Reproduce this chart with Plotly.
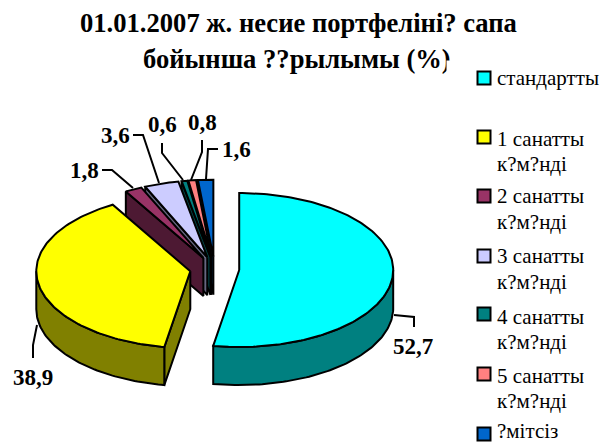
import math
import plotly.graph_objects as go

categories = ["стандартты", "1 санатты<br>к?м?нді", "2 санатты<br>к?м?нді", "3 санатты<br>к?м?нді",
              "4 санатты<br>к?м?нді", "5 санатты<br>к?м?нді", "?мітсіз"]
values = [52.7, 38.9, 1.8, 3.6, 0.6, 0.8, 1.6]
value_labels = ["52,7", "38,9", "1,8", "3,6", "0,6", "0,8", "1,6"]
top_colors = ["#00FFFF", "#FFFF00", "#993366", "#CCCCFF", "#008080", "#FF8080", "#0066CC"]
side_colors = ["#008080", "#808000", "#4D1933", "#666680", "#004040", "#804040", "#003366"]
title_lines = ["01.01.2007 ж. несие портфеліні? сапа", "бойынша ??рылымы (%)"]

CX, CY, RX, RY, DEPTH, EXPLODE = 214.6, 269.0, 154.0, 77.0, 38.0, 24.7
FONT = "Liberation Serif"
LW = 2


def pt(c, a, rx=RX, ry=RY):
    return c[0] + rx * math.sin(a), c[1] - ry * math.cos(a)


def arc(c, a0, a1, dy=0.0):
    n = max(2, int(abs(a1 - a0) / 0.02))
    return [(pt(c, a0 + (a1 - a0) * i / n)[0], pt(c, a0 + (a1 - a0) * i / n)[1] + dy) for i in range(n + 1)]


def poly(pts, fill):
    xs = [p[0] for p in pts] + [pts[0][0]]
    ys = [p[1] for p in pts] + [pts[0][1]]
    return go.Scatter(x=xs, y=ys, mode="lines", fill="toself", fillcolor=fill,
                      line=dict(color="black", width=LW), hoverinfo="skip", showlegend=False)


total = sum(values)
spans, start = [], 0.0
for v in values:
    a = v / total * 2 * math.pi
    spans.append((start, start + a))
    start += a

fig = go.Figure()
for i in [6, 5, 4, 3, 2, 1, 0]:
    a0, a1 = spans[i]
    mid = (a0 + a1) / 2
    c = (CX + EXPLODE * math.sin(mid), CY - EXPLODE * 0.5 * math.cos(mid))
    # cut face on the starting edge, visible when the edge points to the left
    if math.sin(a0) < 0:
        p = pt(c, a0)
        fig.add_trace(poly([c, p, (p[0], p[1] + DEPTH), (c[0], c[1] + DEPTH)], side_colors[i]))
    # outer wall on the front half
    w0, w1 = max(a0, math.pi / 2), min(a1, 3 * math.pi / 2)
    if w1 > w0:
        fig.add_trace(poly(arc(c, w0, w1) + arc(c, w1, w0, DEPTH), side_colors[i]))
    fig.add_trace(poly([c] + arc(c, a0, a1), top_colors[i]))

# leader lines
leaders = [
    [(394, 315), (414, 317), (414, 327)],
    [(37, 325), (33, 345), (33, 358)],
    [(102, 170), (112, 170), (133, 188)],
    [(133, 135), (143, 135), (159, 183)],
    [(162, 143), (162, 153), (183, 180)],
    [(202, 140), (202, 152), (191, 180)],
    [(218, 149), (208, 149), (206, 179)],
]
for l in leaders:
    fig.add_trace(go.Scatter(x=[p[0] for p in l], y=[p[1] for p in l], mode="lines",
                             line=dict(color="black", width=LW), hoverinfo="skip", showlegend=False))

label_pos = [(413, 346), (33, 377), (84, 170), (115, 135), (162, 124), (202, 122), (236, 149)]
ann = []
for t, (x, y) in zip(value_labels, label_pos):
    ann.append(dict(x=x, y=y, text="<b>%s</b>" % t, showarrow=False, font=dict(family=FONT, size=23, color="black")))

for t, x, y, s in zip(title_lines, (298.5, 297), (23, 59), (26.6, 26.6)):
    ann.append(dict(x=x, y=y, text="<b>%s</b>" % t, showarrow=False, font=dict(family=FONT, size=s, color="black")))

# the legend box overlaps the end of the title's second line
ann.append(dict(x=446, y=60, xanchor="left", yanchor="top", text=" ", width=24, height=16, borderpad=0,
                bgcolor="white", showarrow=False, font=dict(size=4)))

# legend
leg_y = [78, 137, 196, 256, 314, 374, 434]
leg_text_y = [(78,), (139, 164), (196, 222), (256, 282), (317, 342), (376, 401), (431,)]
shapes = []
for name, color, y, tys in zip(categories, top_colors, leg_y, leg_text_y):
    shapes.append(dict(type="rect", x0=477.5, x1=490.5, y0=y - 6.5, y1=y + 6.5, fillcolor=color,
                       line=dict(color="black", width=2), layer="above"))
    for line, ty in zip(name.split("<br>"), tys):
        ann.append(dict(x=495, y=ty, xanchor="left", text=line, showarrow=False,
                        font=dict(family=FONT, size=21, color="black")))

fig.update_layout(
    width=601, height=443, margin=dict(l=0, r=0, t=0, b=0),
    paper_bgcolor="white", plot_bgcolor="white", showlegend=False,
    xaxis=dict(range=[0, 601], visible=False, fixedrange=True),
    yaxis=dict(range=[443, 0], visible=False, fixedrange=True),
    annotations=ann, shapes=shapes,
)
fig.write_html("out.html", config={"displayModeBar": False},
               post_script="document.body.style.margin='0';document.documentElement.style.overflow='hidden';")
